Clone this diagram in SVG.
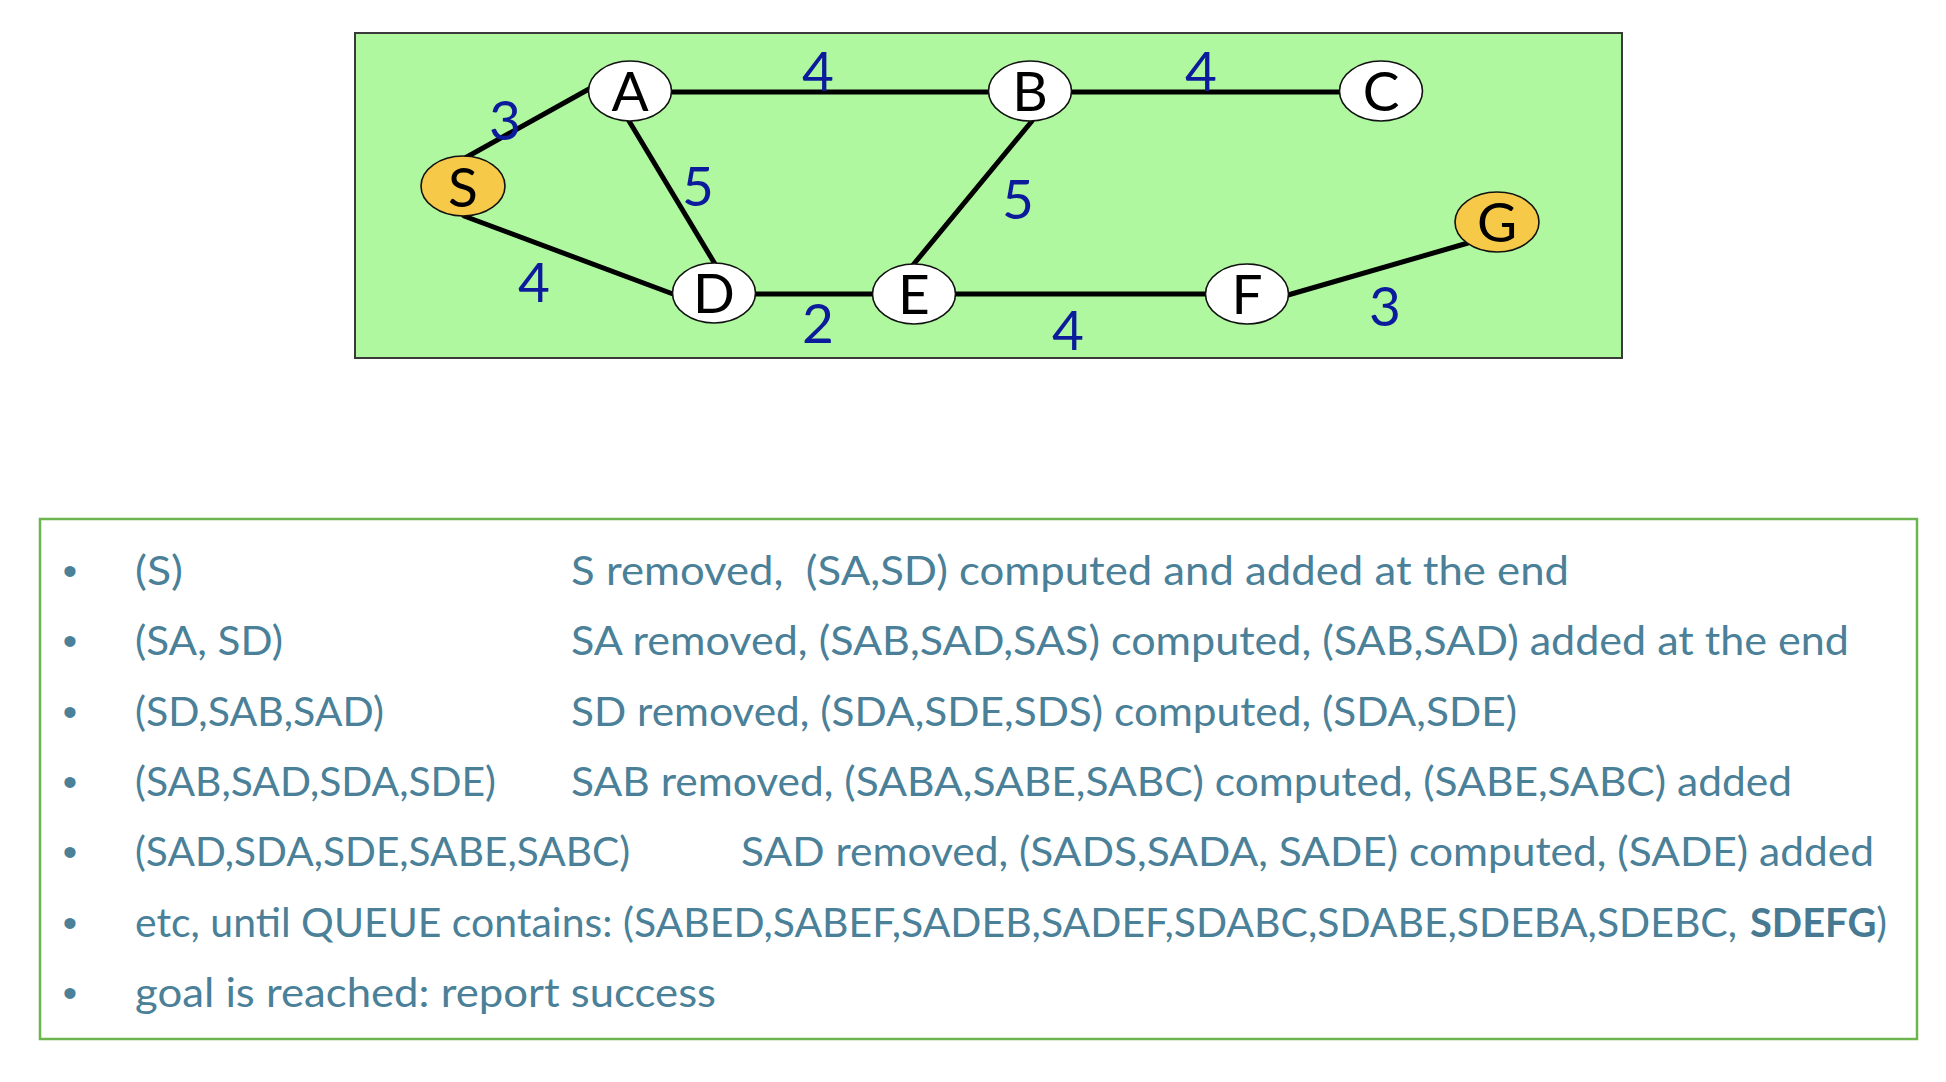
<svg xmlns="http://www.w3.org/2000/svg" width="1946" height="1082" viewBox="0 0 1946 1082">
<style>
.node{stroke:#111;stroke-width:1.6}
.white{fill:#ffffff}
.gold{fill:#f7c948}
.nl{font-family:Lato,"Open Sans","Liberation Sans",sans-serif;font-size:55px;fill:#000;text-anchor:middle}
.wl{font-family:Lato,"Open Sans","Liberation Sans",sans-serif;font-size:55px;fill:#0b1b9c;text-anchor:middle}
.edge{stroke:#000;stroke-width:5;stroke-linecap:round;fill:none}
.t{font-family:Lato,"Open Sans","Liberation Sans",sans-serif;font-size:41px;fill:#4a8098}
.b{font-weight:bold;fill:#477a92}
.bul{font-family:"Liberation Sans",Arial,sans-serif;font-size:41px;fill:#4a8098;text-anchor:middle}
</style>
<rect width="1946" height="1082" fill="#ffffff"/>
<rect id="graph-panel" x="355" y="33" width="1267" height="325" fill="#b0f8a0" stroke="#3a3a3a" stroke-width="2"/>
<g id="connectors">
<line class="edge" x1="465" y1="158" x2="589" y2="89"/>
<line class="edge" x1="672" y1="92" x2="989" y2="92"/>
<line class="edge" x1="1071" y1="92" x2="1340" y2="92"/>
<line class="edge" x1="629" y1="121" x2="715" y2="264"/>
<line class="edge" x1="464" y1="216" x2="673" y2="294"/>
<line class="edge" x1="755" y1="294" x2="873" y2="294"/>
<line class="edge" x1="1032" y1="121" x2="913" y2="265"/>
<line class="edge" x1="955" y1="294" x2="1206" y2="294"/>
<line class="edge" x1="1288" y1="295" x2="1468" y2="243"/>
<text class="wl" x="505" y="140">3</text>
<text class="wl" x="818" y="91">4</text>
<text class="wl" x="1201" y="91">4</text>
<text class="wl" x="698" y="206">5</text>
<text class="wl" x="1018" y="219">5</text>
<text class="wl" x="534" y="302">4</text>
<text class="wl" x="818" y="343">2</text>
<text class="wl" x="1068" y="350">4</text>
<text class="wl" x="1385" y="326">3</text>
</g>
<g id="node-S"><ellipse class="node gold" cx="463" cy="186" rx="42" ry="30"/><text class="nl" x="463" y="207">S</text></g>
<g id="node-A"><ellipse class="node white" cx="630" cy="91" rx="41.5" ry="30"/><text class="nl" x="630" y="111">A</text></g>
<g id="node-B"><ellipse class="node white" cx="1030" cy="91" rx="41.5" ry="30"/><text class="nl" x="1030" y="111">B</text></g>
<g id="node-C"><ellipse class="node white" cx="1381" cy="91" rx="41.5" ry="30"/><text class="nl" x="1381" y="111">C</text></g>
<g id="node-D"><ellipse class="node white" cx="714" cy="293" rx="41.5" ry="30"/><text class="nl" x="714" y="313">D</text></g>
<g id="node-E"><ellipse class="node white" cx="914" cy="294" rx="41.5" ry="30"/><text class="nl" x="914" y="314">E</text></g>
<g id="node-F"><ellipse class="node white" cx="1247" cy="294" rx="41.5" ry="30"/><text class="nl" x="1247" y="314">F</text></g>
<g id="node-G"><ellipse class="node gold" cx="1497" cy="222" rx="42" ry="30"/><text class="nl" x="1497" y="242">G</text></g>
<g id="trace-panel">
<rect x="40" y="519" width="1877" height="520" fill="none" stroke="#6db54e" stroke-width="2.5"/>
<text class="bul" x="70" y="585">•</text>
<text class="bul" x="70" y="655">•</text>
<text class="bul" x="70" y="726">•</text>
<text class="bul" x="70" y="796">•</text>
<text class="bul" x="70" y="866">•</text>
<text class="bul" x="70" y="937">•</text>
<text class="bul" x="70" y="1007">•</text>
<text class="t" x="135" y="585" textLength="48" lengthAdjust="spacingAndGlyphs">(S)</text>
<text class="t" x="571" y="585" textLength="998" lengthAdjust="spacingAndGlyphs" xml:space="preserve">S removed,  (SA,SD) computed and added at the end</text>
<text class="t" x="135" y="655" textLength="148" lengthAdjust="spacingAndGlyphs">(SA, SD)</text>
<text class="t" x="571" y="655" textLength="1278" lengthAdjust="spacingAndGlyphs">SA removed, (SAB,SAD,SAS) computed, (SAB,SAD) added at the end</text>
<text class="t" x="135" y="726" textLength="249" lengthAdjust="spacingAndGlyphs">(SD,SAB,SAD)</text>
<text class="t" x="571" y="726" textLength="946" lengthAdjust="spacingAndGlyphs">SD removed, (SDA,SDE,SDS) computed, (SDA,SDE)</text>
<text class="t" x="135" y="796" textLength="361" lengthAdjust="spacingAndGlyphs">(SAB,SAD,SDA,SDE)</text>
<text class="t" x="571" y="796" textLength="1221" lengthAdjust="spacingAndGlyphs">SAB removed, (SABA,SABE,SABC) computed, (SABE,SABC) added</text>
<text class="t" x="135" y="866" textLength="495" lengthAdjust="spacingAndGlyphs">(SAD,SDA,SDE,SABE,SABC)</text>
<text class="t" x="741" y="866" textLength="1133" lengthAdjust="spacingAndGlyphs">SAD removed, (SADS,SADA, SADE) computed, (SADE) added</text>
<text class="t" x="135" y="937" textLength="1602" lengthAdjust="spacingAndGlyphs">etc, until QUEUE contains: (SABED,SABEF,SADEB,SADEF,SDABC,SDABE,SDEBA,SDEBC,</text>
<text class="t" x="1750" y="937" textLength="137" lengthAdjust="spacingAndGlyphs"><tspan class="b">SDEFG</tspan>)</text>
<text class="t" x="135" y="1007" textLength="581" lengthAdjust="spacingAndGlyphs">goal is reached: report success</text>
</g>
</svg>
